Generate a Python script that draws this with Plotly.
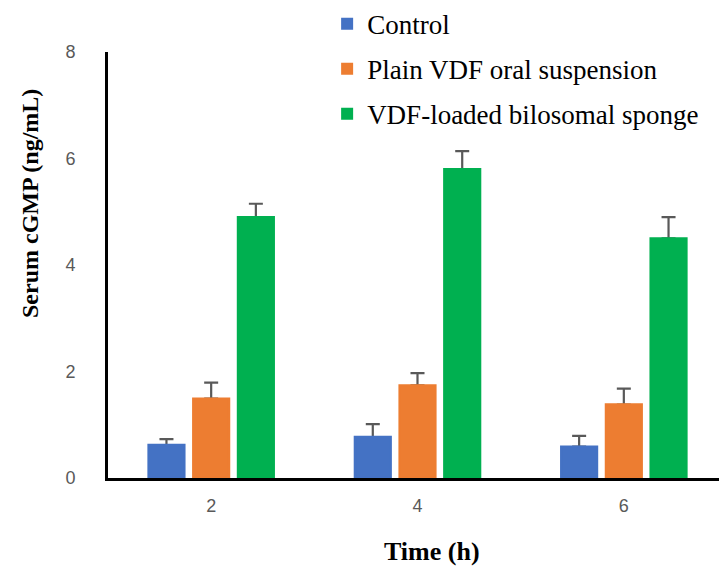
import plotly.graph_objects as go

times = ["2", "4", "6"]
series_names = ["Control", "Plain VDF oral suspension", "VDF-loaded bilosomal sponge"]
control = [0.62, 0.77, 0.59]
control_err = [0.11, 0.24, 0.20]
plain = [1.49, 1.74, 1.38]
plain_err = [0.30, 0.23, 0.30]
sponge = [4.90, 5.80, 4.50]
sponge_err = [0.25, 0.34, 0.40]
colors = ["#4472C4", "#ED7D31", "#00B050"]

values = [control, plain, sponge]
errors = [control_err, plain_err, sponge_err]

fig = go.Figure()
for i, name in enumerate(series_names):
    fig.add_trace(go.Bar(
        x=times, y=values[i], name=name, offsetgroup=str(i),
        marker=dict(color=colors[i], line=dict(color=colors[i], width=0)),
        error_y=dict(type="data", array=errors[i], arrayminus=[0] * len(times), symmetric=False,
                     color="#595959", thickness=2.2, width=7),
        legendgroup=f"g{i}",
    ))
# same bars drawn again on top (no error bars) so only the upper whisker shows
for i, name in enumerate(series_names):
    fig.add_trace(go.Bar(
        x=times, y=values[i], name=name, offsetgroup=str(i), showlegend=False,
        marker=dict(color=colors[i], line=dict(color=colors[i], width=2.4)),
        legendgroup=f"g{i}", hoverinfo="skip",
    ))

# page body has an 8px margin, so the figure is drawn 8px smaller and offset
OFF = 8
W, H = 727 - OFF, 568 - OFF
l, r, t, b = 108 - OFF, 0, 52 - OFF, 568 - 478
pw, ph = W - l - r, H - t - b

def px(x, y):
    # screen pixel -> paper coords
    return (x - OFF - l) / pw, (H - b - (y - OFF)) / ph

tx, ty = px(432, 551)
yx, yy = px(30, 203)

fig.update_layout(
    width=W, height=H,
    margin=dict(l=l, r=r, t=t, b=b, autoexpand=False),
    paper_bgcolor="white", plot_bgcolor="white",
    barmode="group", bargap=0.35, bargroupgap=0.2,
    showlegend=True,
    legend=dict(x=0.354, xanchor="left", y=1.123, yanchor="top",
                font=dict(family="Liberation Serif", size=27, color="black"),
                tracegroupgap=7, bgcolor="rgba(0,0,0,0)", itemwidth=30),
    xaxis=dict(range=[-0.5, 2.5], showline=True, linecolor="black", linewidth=3,
               showgrid=False, ticks="", ticklabelstandoff=9,
               tickfont=dict(family="Liberation Sans", size=18, color="#595959")),
    yaxis=dict(range=[0, 8], dtick=2, showline=True, linecolor="black", linewidth=3,
               showgrid=False, zeroline=False, ticks="", ticklabelstandoff=26,
               tickfont=dict(family="Liberation Sans", size=18, color="#595959")),
    annotations=[
        dict(text="<b>Time (h)</b>", x=tx, y=ty, xref="paper", yref="paper",
             xanchor="center", yanchor="middle",
             showarrow=False, font=dict(family="Liberation Serif", size=26, color="black")),
        dict(text="<b>Serum cGMP (ng/mL)</b>", x=yx, y=yy, xref="paper", yref="paper",
             xanchor="center", yanchor="middle",
             textangle=-90, showarrow=False,
             font=dict(family="Liberation Serif", size=24, color="black")),
    ],
)

fig.write_html("out.html")
